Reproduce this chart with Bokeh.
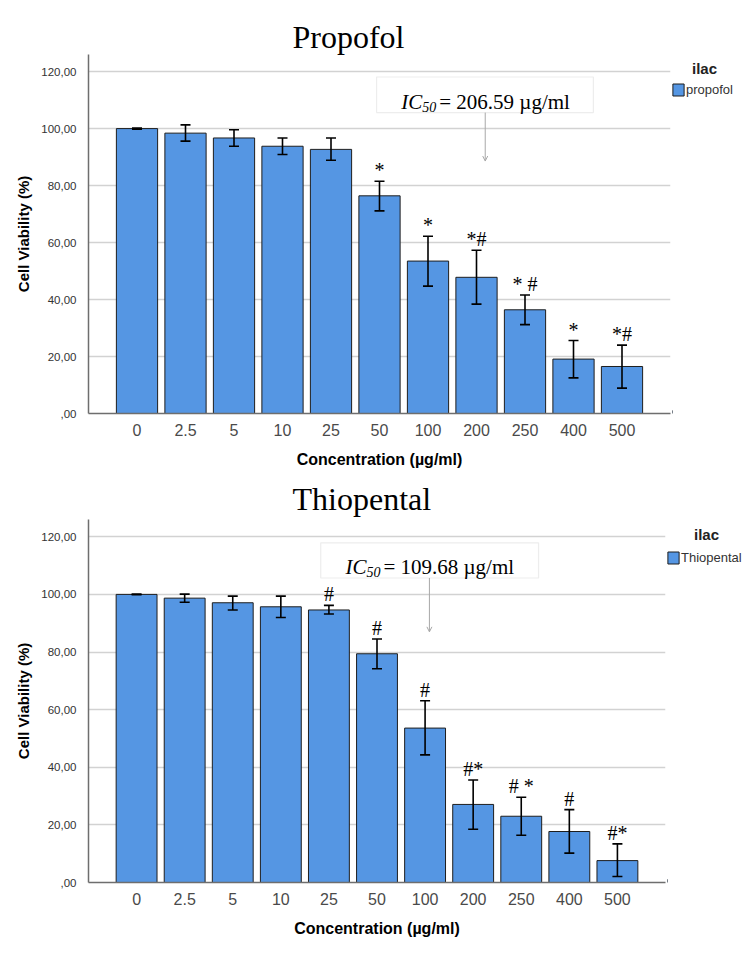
from bokeh.plotting import figure
from bokeh.models import (FactorRange, Range1d, FixedTicker, Whisker, TeeHead, ColumnDataSource,
                          Label, Legend, LegendItem, BoxAnnotation, Arrow, OpenHead)
from bokeh.layouts import column, row
from bokeh.embed import file_html
from bokeh.resources import INLINE
from bokeh.core.properties import value

# ---------------- data ----------------
concentrations = ["0", "2.5", "5", "10", "25", "50", "100", "200", "250", "400", "500"]

propofol_mean = [100.0, 98.4, 96.7, 93.8, 92.7, 76.4, 53.5, 47.8, 36.4, 19.1, 16.5]
propofol_upper = [100.2, 101.3, 99.6, 96.7, 96.7, 81.5, 62.2, 57.3, 41.6, 25.6, 24.0]
propofol_lower = [99.8, 95.6, 93.8, 90.9, 88.9, 71.1, 44.7, 38.4, 31.2, 12.5, 8.9]
propofol_marks = ["", "", "", "", "", "*", "*", "*#", "* #", "*", "*#"]
propofol_ic50 = "= 206.59 µg/ml"

thiopental_mean = [100.0, 98.7, 97.1, 95.7, 94.6, 79.4, 53.6, 27.1, 23.0, 17.7, 7.6]
thiopental_upper = [100.1, 100.1, 99.4, 99.4, 96.2, 84.5, 63.1, 35.6, 29.6, 25.3, 13.4]
thiopental_lower = [99.9, 97.3, 94.6, 92.0, 93.2, 74.2, 44.3, 18.5, 16.4, 10.2, 2.1]
thiopental_marks = ["", "", "", "", "#", "#", "#", "#*", "# *", "#", "#*"]
thiopental_ic50 = "= 109.68 µg/ml"

y_ticks = [0, 20, 40, 60, 80, 100, 120]
y_tick_labels = [",00", "20,00", "40,00", "60,00", "80,00", "100,00", "120,00"]

BAR_COLOR = "#5596e3"
BAR_LINE = "#1e1e1e"
SERIF = "Liberation Serif"
SANS = "Liberation Sans"
Y_MAX = 126


def make_chart(title, legend_label, mean, upper, lower, marks, ic50_value,
               chart_width, legend_width, height, border_top, border_bottom,
               title_standoff, ilac_pos, legend_pos, box, arrow):
    src = ColumnDataSource(dict(x=concentrations, mean=mean, upper=upper,
                                lower=lower, marks=marks))
    p = figure(width=chart_width, height=height,
               x_range=FactorRange(*concentrations, range_padding=1 / 11,
                                   range_padding_units="percent"),
               y_range=Range1d(0, Y_MAX),
               output_backend="svg", toolbar_location=None,
               min_border_left=88, min_border_right=2,
               min_border_top=border_top, min_border_bottom=border_bottom)
    p.outline_line_color = None

    # title
    p.title.text = title
    p.title.text_font = SERIF
    p.title.text_font_size = "32px"
    p.title.text_font_style = "normal"
    p.title.text_color = "black"
    p.title.align = "left"
    p.title.offset = 204
    p.title.standoff = title_standoff
    p.title.vertical_align = "bottom"

    bars = p.vbar(x="x", top="mean", width=0.85, source=src,
                  fill_color=BAR_COLOR, line_color=BAR_LINE, line_width=1)

    p.add_layout(Whisker(source=src, base="x", upper="upper", lower="lower",
                         dimension="height", line_color="black", line_width=1.6,
                         level="annotation",
                         upper_head=TeeHead(size=10, line_color="black", line_width=1.6),
                         lower_head=TeeHead(size=10, line_color="black", line_width=1.6)))

    p.text(x="x", y="upper", text="marks", source=src,
           text_font=value(SERIF), text_font_size="20px", text_align="center",
           text_baseline="bottom", text_color="black")

    # axes
    p.yaxis.ticker = FixedTicker(ticks=y_ticks)
    p.yaxis.major_label_overrides = {t: l for t, l in zip(y_ticks, y_tick_labels)}
    p.yaxis.major_label_text_font = SANS
    p.yaxis.major_label_text_font_size = "11.5px"
    p.yaxis.major_label_text_color = "#333333"
    p.yaxis.major_label_standoff = 6
    p.yaxis.axis_label = "Cell Viability (%)"
    p.yaxis.axis_label_text_font = SANS
    p.yaxis.axis_label_text_font_style = "bold"
    p.yaxis.axis_label_text_font_size = "15px"
    p.yaxis.axis_label_text_color = "black"
    p.yaxis.axis_label_standoff = 6

    p.xaxis.major_label_text_font = SANS
    p.xaxis.major_label_text_font_size = "16px"
    p.xaxis.major_label_text_color = "#4a4a4a"
    p.xaxis.major_label_standoff = 4
    p.xaxis.axis_label = "Concentration (µg/ml)"
    p.xaxis.axis_label_text_font = SANS
    p.xaxis.axis_label_text_font_style = "bold"
    p.xaxis.axis_label_text_font_size = "16px"
    p.xaxis.axis_label_text_color = "black"
    p.xaxis.axis_label_standoff = 12

    for ax in (p.xaxis, p.yaxis):
        ax.axis_line_color = "#6e6e6e"
        ax.axis_line_width = 1.5
        ax.major_tick_line_color = None
        ax.minor_tick_line_color = None

    p.xgrid.grid_line_color = None
    p.ygrid.grid_line_color = "#d2d2d2"
    p.ygrid.grid_line_width = 1.5

    # IC50 box + arrow
    bl, br, bb, bt = box
    p.add_layout(BoxAnnotation(left=bl, right=br, bottom=bb, top=bt,
                               fill_color="white", fill_alpha=1,
                               line_color="#c4c4c4", line_width=1.2))
    ax_x, y_text, y_end = arrow
    p.add_layout(Arrow(x_start=ax_x, y_start=bb, x_end=ax_x, y_end=y_end,
                       line_color="#a8a8a8", line_width=1,
                       end=OpenHead(size=5, line_color="#a8a8a8", line_width=1)))
    p.add_layout(Label(x=ax_x, y=y_text, x_offset=-84, text="IC",
                       text_font=SERIF, text_font_style="italic", text_font_size="21px",
                       text_color="black", text_baseline="alphabetic"))
    p.add_layout(Label(x=ax_x, y=y_text, x_offset=-63, y_offset=-5, text="50",
                       text_font=SERIF, text_font_style="italic", text_font_size="14px",
                       text_color="black", text_baseline="alphabetic"))
    p.add_layout(Label(x=ax_x, y=y_text, x_offset=-46, text=ic50_value,
                       text_font=SERIF, text_font_size="21px",
                       text_color="black", text_baseline="alphabetic"))

    # legend panel (separate narrow figure sharing the vertical geometry)
    lg = figure(width=legend_width, height=height,
                x_range=Range1d(0, legend_width), y_range=Range1d(0, Y_MAX),
                x_axis_location=None, y_axis_location=None,
                output_backend="svg", toolbar_location=None,
                min_border_left=0, min_border_right=0,
                min_border_top=border_top, min_border_bottom=border_bottom)
    lg.outline_line_color = None
    lg.xgrid.grid_line_color = None
    lg.ygrid.grid_line_color = None
    # legend proxy: a bar outside the visible range, only its style is shown in the legend
    swatch = lg.vbar(x=[-1000], top=[1], width=1, fill_color=BAR_COLOR,
                     line_color=BAR_LINE, line_width=1)
    lg.add_layout(Label(x=ilac_pos[0], y=ilac_pos[1], x_units="screen", y_units="screen",
                        text="ilac", text_font=SANS, text_font_style="bold",
                        text_font_size="15px", text_color="#222222",
                        text_align="center", text_baseline="middle"))
    legend = Legend(items=[LegendItem(label=legend_label, renderers=[swatch])],
                    location=legend_pos, padding=0, margin=0, spacing=0,
                    glyph_width=14, glyph_height=15, label_standoff=1,
                    label_text_font=SANS, label_text_font_size="13px",
                    label_text_color="#333333", border_line_color=None,
                    background_fill_alpha=0)
    lg.add_layout(legend, "center")
    return row(p, lg, spacing=0)


top = make_chart("Propofol", "propofol", propofol_mean, propofol_upper, propofol_lower,
                 propofol_marks, propofol_ic50,
                 chart_width=672, legend_width=78, height=472,
                 border_top=54, border_bottom=59, title_standoff=0,
                 ilac_pos=(32, 345), legend_pos=(-1, 316),
                 box=(5.44, 9.91, 105.6, 118.1), arrow=(7.68, 109.4, 88.6))

bottom = make_chart("Thiopental", "Thiopental", thiopental_mean, thiopental_upper,
                    thiopental_lower, thiopental_marks, thiopental_ic50,
                    chart_width=667, legend_width=83, height=480,
                    border_top=47, border_bottom=70, title_standoff=6,
                    ilac_pos=(39, 348), legend_pos=(-1, 317),
                    box=(4.33, 8.86, 105.7, 117.9), arrow=(6.59, 109.6, 87.0))

layout = column(top, bottom, spacing=0)
open("out.html", "w").write(file_html(layout, INLINE))
